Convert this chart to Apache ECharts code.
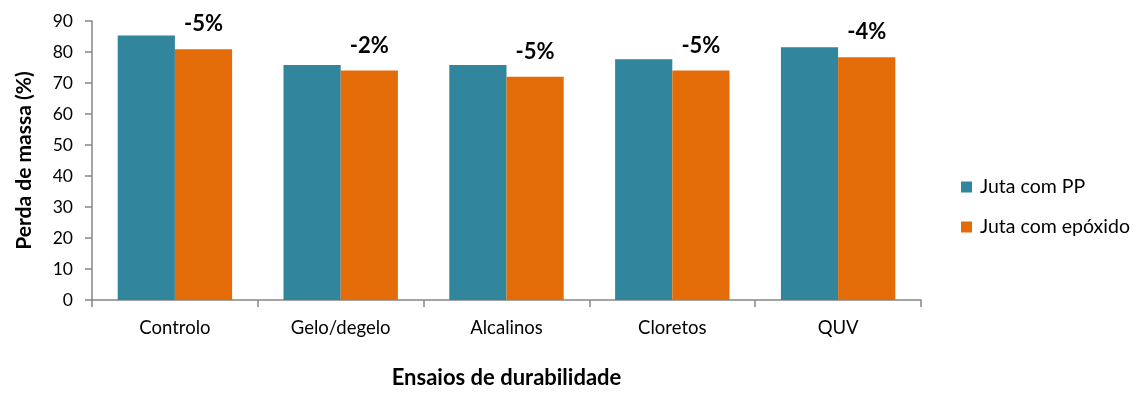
<!DOCTYPE html>
<html>
<head>
<meta charset="utf-8">
<script src="https://cdn.jsdelivr.net/npm/echarts@6/dist/echarts.min.js"></script>
<style>
  html, body { margin: 0; padding: 0; background: #fff; }
  #chart { width: 1138px; height: 394px; }
</style>
</head>
<body>
<div id="chart"></div>
<script>
// Durability tests and mass loss (%) for each jute composite
const categories = ['Controlo', 'Gelo/degelo', 'Alcalinos', 'Cloretos', 'QUV'];
const seriesNames = ['Juta com PP', 'Juta com epóxido'];
const jutaPP = [85.3, 75.8, 75.8, 77.7, 81.5];
const jutaEpoxido = [80.9, 74.0, 72.0, 74.0, 78.3];
const yTicks = { min: 0, max: 90, interval: 10 };

// Relative change of the epoxy composite versus the PP composite
const changeLabels = jutaPP.map((pp, i) => Math.round((jutaEpoxido[i] - pp) / pp * 100) + '%');

const FONT = 'Lato, "Open Sans", sans-serif';
const AXIS_GREY = '#868686';

const chart = echarts.init(document.getElementById('chart'), null, { renderer: 'canvas' });
chart.setOption({
  animation: false,
  textStyle: { fontFamily: FONT },
  grid: { left: 92, right: 217, top: 21, bottom: 88, containLabel: false },
  legend: {
    orient: 'vertical',
    left: 956,
    top: 172,
    itemWidth: 11,
    itemHeight: 11,
    itemGap: 20,
    icon: 'rect',
    textStyle: { fontFamily: FONT, fontSize: 19.5, color: '#000', padding: [0, 0, 0, 3] },
    data: seriesNames
  },
  xAxis: {
    type: 'category',
    data: categories,
    name: 'Ensaios de durabilidade',
    nameLocation: 'middle',
    nameGap: 67,
    nameTextStyle: { fontFamily: FONT, fontSize: 22, fontWeight: 'bold', color: '#000' },
    axisLine: { lineStyle: { color: AXIS_GREY, width: 1.5 } },
    axisTick: { show: true, alignWithLabel: false, length: 7, lineStyle: { color: AXIS_GREY, width: 1.5 } },
    axisLabel: { fontFamily: FONT, fontSize: 18.5, color: '#000', margin: 19 },
    splitLine: { show: false }
  },
  yAxis: {
    type: 'value',
    min: yTicks.min,
    max: yTicks.max,
    interval: yTicks.interval,
    name: 'Perda de massa (%)',
    nameLocation: 'middle',
    nameGap: 57,
    nameRotate: 90,
    nameTextStyle: { fontFamily: FONT, fontSize: 21, fontWeight: 'bold', color: '#000' },
    axisLine: { show: true, lineStyle: { color: AXIS_GREY, width: 1.5 } },
    axisTick: { show: true, length: 7, lineStyle: { color: AXIS_GREY, width: 1.5 } },
    axisLabel: { fontFamily: FONT, fontSize: 17.5, color: '#000', margin: 19 },
    splitLine: { show: false }
  },
  series: [
    {
      name: seriesNames[0],
      type: 'bar',
      data: jutaPP,
      barGap: '0%',
      barCategoryGap: '31%',
      itemStyle: { color: '#31859C' }
    },
    {
      name: seriesNames[1],
      type: 'bar',
      data: jutaEpoxido,
      barGap: '0%',
      barCategoryGap: '31%',
      itemStyle: { color: '#E36C09' },
      label: {
        show: true,
        position: 'top',
        distance: 14,
        fontFamily: FONT,
        fontSize: 22,
        fontWeight: 'bold',
        color: '#000',
        formatter: p => changeLabels[p.dataIndex]
      }
    }
  ]
});
</script>
</body>
</html>
